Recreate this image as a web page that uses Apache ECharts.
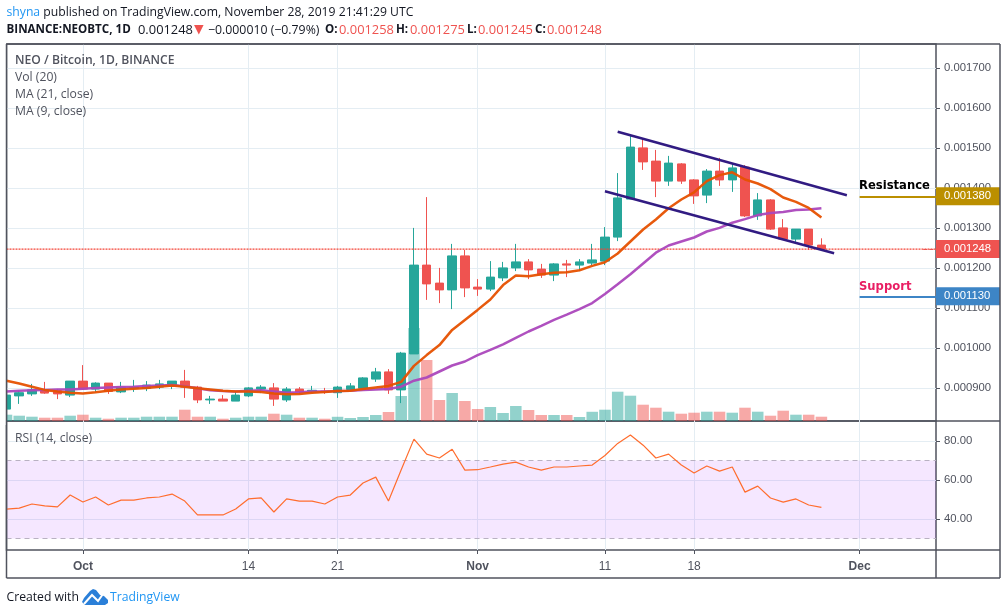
<!DOCTYPE html>
<html>
<head>
<meta charset="utf-8">
<style>html,body{margin:0;padding:0;background:#fff}#chart{width:1006px;height:615px}</style>
<script src="https://cdn.jsdelivr.net/npm/echarts@6/dist/echarts.min.js"></script>
</head>
<body>
<div id="chart"></div>
<script>
// daily bars, Sep 25 to Dec 7 (the axis runs past the last candle on Nov 28)
var days = ['2019-09-25','2019-09-26','2019-09-27','2019-09-28','2019-09-29','2019-09-30',
    '2019-10-01','2019-10-02','2019-10-03','2019-10-04','2019-10-05','2019-10-06','2019-10-07','2019-10-08','2019-10-09','2019-10-10',
    '2019-10-11','2019-10-12','2019-10-13','2019-10-14','2019-10-15','2019-10-16','2019-10-17','2019-10-18','2019-10-19','2019-10-20',
    '2019-10-21','2019-10-22','2019-10-23','2019-10-24','2019-10-25','2019-10-26','2019-10-27','2019-10-28','2019-10-29','2019-10-30','2019-10-31',
    '2019-11-01','2019-11-02','2019-11-03','2019-11-04','2019-11-05','2019-11-06','2019-11-07','2019-11-08','2019-11-09','2019-11-10',
    '2019-11-11','2019-11-12','2019-11-13','2019-11-14','2019-11-15','2019-11-16','2019-11-17','2019-11-18','2019-11-19','2019-11-20',
    '2019-11-21','2019-11-22','2019-11-23','2019-11-24','2019-11-25','2019-11-26','2019-11-27','2019-11-28','2019-11-29','2019-11-30',
    '2019-12-01','2019-12-02','2019-12-03','2019-12-04','2019-12-05','2019-12-06','2019-12-07'];
var dayLabels = {'2019-10-01': 'Oct', '2019-10-14': '14', '2019-10-21': '21', '2019-11-01': 'Nov', '2019-11-11': '11', '2019-11-18': '18', '2019-12-01': 'Dec'};
var monthLabels = ['Oct', 'Nov', 'Dec'];

// prices in millionths of a BTC
var opens = [848,881,886,896,894,883,918,898,913,891,900,900,903,906,918,903,871,873,868,881,898,901,871,898,893,893,889,
    897,900,923,941,896,986,1208,1163,1146,1231,1153,1148,1176,1201,1216,1198,1183,1211,1208,1213,
    1218,1278,1373,1501,1468,1418,1461,1421,1383,1443,1421,1453,1331,1371,1301,1273,1298,1258];
var closes = [883,889,896,888,886,918,898,913,892,903,903,908,911,918,903,871,873,868,883,901,903,873,898,891,895,891,903,
    906,926,941,896,988,1208,1161,1146,1231,1151,1148,1178,1201,1216,1196,1183,1211,1208,1216,1221,
    1278,1376,1503,1466,1418,1463,1418,1381,1443,1421,1451,1331,1371,1298,1273,1298,1258,1248];
var lows = [848,861,881,886,873,878,896,891,886,888,891,893,898,898,876,863,861,868,868,878,888,856,866,886,888,886,876,
    897,897,916,886,863,986,1121,1113,1098,1128,1131,1143,1168,1193,1173,1176,1168,1178,1193,1208,
    1208,1268,1373,1446,1378,1406,1411,1361,1363,1406,1391,1328,1321,1296,1271,1266,1246,1245];
var highs = [887,894,911,916,898,918,958,915,913,916,921,918,921,918,946,906,881,883,893,903,908,913,903,903,906,901,906,
    913,928,951,948,991,1301,1378,1201,1261,1246,1173,1218,1216,1261,1223,1211,1213,1221,1223,1261,
    1303,1438,1533,1523,1496,1481,1463,1423,1448,1476,1461,1458,1388,1373,1323,1298,1298,1275];
var volumes = [6.3,5.3,4.3,3.3,3.3,5.3,6.3,3.3,2.3,3.3,3.3,4.3,4.3,4.3,11.3,4.3,4.3,2.3,3.3,4.3,4.3,7.3,6.3,3.3,3.3,2.3,4.2,
    3,4,6,9,25,93,61,21,28,20,12,14,8,15,11,6,6,6,4,9.2,
    11.3,29.3,25.3,16.3,13.3,9.3,7.3,8.3,9.3,9.3,8.3,13.3,9.3,5.3,10.3,6.3,6.3,4.3];
var maFast = [919,912,904,896,892,889,887,890,894,897,899,901,904,907,904,900,897,894,892,892,891,887,885,886,889,891,893,
    894,898,902,906,916,956,983,1008,1046,1071,1096,1122,1158,1182,1180,1185,1189,1190,1195,1206,
    1215,1237,1267,1297,1322,1350,1372,1390,1418,1433,1440,1422,1412,1398,1377,1366,1351,1327];
var maSlow = [892,894,895,896,897,897,899,901,902,903,904,906,907,908,905,900,895,893,892,894,895,892,889,890,892,892,893,
    894,896,897,898,904,919,927,942,957,967,983,996,1010,1026,1042,1056,1071,1084,1098,1113,
    1136,1160,1185,1212,1239,1257,1267,1277,1292,1301,1314,1323,1333,1338,1341,1346,1347,1350];
var rsi = [45.1,45.6,47.7,46.7,46.2,52.3,48.7,51.3,47.2,49.7,49.7,50.8,51.3,52.8,49.2,42.1,42.1,42.1,45.1,50.3,50.8,43.6,50.3,49.2,49.2,47.7,51.3,
    52.3,58.5,61.5,49.2,65.3,81,73.3,71.3,75.8,65.1,65.3,66.7,68.2,69.2,66.7,65.1,66.7,66.7,67.2,67.7,
    72.6,78.8,83.1,77.9,71.3,73.3,67.7,63.6,67.2,64.6,66.7,53.8,56.9,50.8,48.7,50.3,47.2,46];

var priceTicks = [900,1000,1100,1200,1300,1400,1500,1600,1700];
var rsiTicks = [40,60,80];
var channelTop = [[48,1541.5],[66,1382.5]];
var channelBottom = [[47,1392.5],[65,1237.5]];
var lastPriceLine = [[0,1248],[73,1248]];
var lastPrice = 1248, resistance = 1380, support = 1130;

var UP = '#26a69a', DOWN = '#ef5350', PANE = '#50535e', GRID = '#e4edf3', INK = '#131722';
var chart = echarts.init(document.getElementById('chart'));

var candles = opens.map(function (o, i) { return [o, closes[i], lows[i], highs[i]]; });
var volumeBars = volumes.map(function (v, i) {
    return { value: v, itemStyle: { color: closes[i] >= opens[i] ? 'rgba(38,166,154,0.5)' : 'rgba(239,83,80,0.5)' } };
});
function isLabelled(index, value) { return dayLabels[value] !== undefined; }
function priceText(v) { return (v / 1e6).toFixed(6); }
function tag(value, color) {
    return { show: true, position: 'end', distance: 0, formatter: priceText(value),
        color: '#fff', backgroundColor: color, fontFamily: 'Liberation Sans', fontSize: 11.3,
        width: 56, height: 18, lineHeight: 18, padding: [0, 0, 0, 8], align: 'left', verticalAlign: 'middle' };
}
function level(value, color) {
    return [{ xAxis: 67, yAxis: value, lineStyle: { color: color, width: 2, type: 'solid' }, label: tag(value, color) },
            { xAxis: 73, yAxis: value }];
}
function text(x, y, str, font, color) {
    return { type: 'text', z: 50, silent: true, style: { x: x, y: y, text: str, font: font, fill: color, textVerticalAlign: 'middle' } };
}
function frameLine(x1, y1, x2, y2) {
    return { type: 'line', z: 40, silent: true, shape: { x1: x1, y1: y1, x2: x2, y2: y2 }, style: { stroke: PANE, lineWidth: 1.5 } };
}
var REG = '12.2px "Open Sans"', NUM = '12.9px "Open Sans"', BOLD = 'bold 11.6px "Open Sans"';

var option = {
    animation: false,
    backgroundColor: '#fff',
    grid: [
        { left: 6.5, top: 44, width: 929.5, height: 377, show: true, borderColor: PANE, borderWidth: 1.5 },
        { left: 6.5, top: 421, width: 929.5, height: 129, show: true, borderColor: PANE, borderWidth: 1.5 }
    ],
    xAxis: [
        { type: 'category', gridIndex: 0, data: days, boundaryGap: false,
          axisLine: { show: false }, axisTick: { show: false }, axisLabel: { show: false },
          splitLine: { show: true, interval: isLabelled, lineStyle: { color: GRID } } },
        { type: 'category', gridIndex: 1, data: days, boundaryGap: false,
          axisLine: { show: false },
          axisTick: { show: true, interval: isLabelled, length: 4, lineStyle: { color: PANE } },
          splitLine: { show: true, interval: isLabelled, lineStyle: { color: GRID } },
          axisLabel: { show: true, interval: isLabelled, margin: 11, color: PANE, fontFamily: 'Liberation Sans', fontSize: 12, hideOverlap: false,
              formatter: function (v) {
                  var s = dayLabels[v];
                  return monthLabels.indexOf(s) >= 0 ? '{m|' + s + '}' : s;
              },
              rich: { m: { fontFamily: 'Liberation Sans', fontWeight: 'bold', fontSize: 12, color: PANE } } } }
    ],
    yAxis: [
        { type: 'value', gridIndex: 0, position: 'right', min: 818.25, max: 1760.75, scale: true,
          axisLine: { show: false },
          axisTick: { show: true, customValues: priceTicks, length: 4, lineStyle: { color: PANE } },
          axisLabel: { show: true, customValues: priceTicks, margin: 8, color: PANE, fontFamily: 'Liberation Sans', fontSize: 11.3, formatter: priceText },
          splitLine: { show: true, lineStyle: { color: GRID } } },
        { type: 'value', gridIndex: 0, min: 0, max: 377, show: false },
        { type: 'value', gridIndex: 1, position: 'right', min: 24.1, max: 90.3, scale: true,
          axisLine: { show: false },
          axisTick: { show: true, customValues: rsiTicks, length: 4, lineStyle: { color: PANE } },
          axisLabel: { show: true, customValues: rsiTicks, margin: 8, color: PANE, fontFamily: 'Liberation Sans', fontSize: 11.3,
              formatter: function (v) { return v.toFixed(2); } },
          splitLine: { show: true, lineStyle: { color: GRID } } }
    ],
    series: [
        { type: 'bar', name: 'Vol', xAxisIndex: 0, yAxisIndex: 1, data: volumeBars, barWidth: 11.5, z: 1, silent: true },
        { type: 'candlestick', name: 'NEO / Bitcoin', xAxisIndex: 0, yAxisIndex: 0, data: candles, barWidth: 9, z: 3, silent: true,
          itemStyle: { color: UP, color0: DOWN, borderColor: UP, borderColor0: DOWN, borderWidth: 1 },
          markLine: { silent: true, symbol: 'none', animation: false, z: 20,
              data: [
                  [{ xAxis: 72, yAxis: lastPrice, lineStyle: { color: DOWN, width: 1 }, label: tag(lastPrice, DOWN) },
                   { xAxis: 73, yAxis: lastPrice }],
                  level(resistance, '#bb8f00'),
                  level(support, '#3d85c6')
              ] } },
        { type: 'line', xAxisIndex: 0, yAxisIndex: 0, data: lastPriceLine, showSymbol: false, z: 4, silent: true,
          lineStyle: { color: '#f44336', width: 1.2, type: [2, 1] } },
        { type: 'line', name: 'MA 21', xAxisIndex: 0, yAxisIndex: 0, data: maSlow, showSymbol: false, z: 4, silent: true,
          lineStyle: { color: '#ab47bc', width: 2.5, opacity: 0.95 } },
        { type: 'line', name: 'MA 9', xAxisIndex: 0, yAxisIndex: 0, data: maFast, showSymbol: false, z: 5, silent: true,
          lineStyle: { color: '#e65100', width: 2.5, opacity: 0.95 } },
        { type: 'line', xAxisIndex: 0, yAxisIndex: 0, data: channelTop, showSymbol: false, z: 6, silent: true,
          lineStyle: { color: '#311b82', width: 2.5 } },
        { type: 'line', xAxisIndex: 0, yAxisIndex: 0, data: channelBottom, showSymbol: false, z: 6, silent: true,
          lineStyle: { color: '#311b82', width: 2.5 } },
        { type: 'line', name: 'RSI', xAxisIndex: 1, yAxisIndex: 2, data: rsi, showSymbol: false, z: 5, silent: true,
          lineStyle: { color: '#ff6d2e', width: 1.2 },
          markArea: { silent: true, itemStyle: { color: 'rgba(153,21,255,0.1)' }, data: [[{ yAxis: 70 }, { yAxis: 30 }]] },
          markLine: { silent: true, symbol: 'none', animation: false, label: { show: false },
              lineStyle: { color: '#b9b1c2', width: 1, type: [5, 4] }, data: [{ yAxis: 70 }, { yAxis: 30 }] } }
    ],
    graphic: [
        // candle and volume at the left edge stick out of the pane, hide that part
        { type: 'rect', z: 39, silent: true, shape: { x: 0, y: 40, width: 6, height: 385 }, style: { fill: '#fff' } },
        frameLine(6.5, 44, 1000, 44), frameLine(936, 421, 1000, 421), frameLine(936, 550, 1000, 550),
        frameLine(6.5, 578, 1000, 578), frameLine(6.5, 44, 6.5, 578), frameLine(1000, 44, 1000, 578), frameLine(936, 550, 936, 578),
        { type: 'text', z: 50, silent: true, style: { x: 6.5, y: 12.5, textVerticalAlign: 'middle', font: REG, fill: INK,
            text: '{a|shyna}{t| published on TradingView.com, November 28, 2019 21:41:29 UTC}',
            rich: { a: { fill: '#2196f3', font: REG }, t: { fill: INK, font: REG } } } },
        text(6.5, 30, 'BINANCE:NEOBTC, 1D', BOLD, INK),
        text(138, 30, '0.001248', NUM, INK),
        text(194, 30, '▼', '12.5px "DejaVu Sans"', DOWN),
        text(208, 30, '−0.000010 (−0.79%)', '12.3px "Open Sans"', INK),
        text(325, 30, 'O:', BOLD, INK), text(339, 30, '0.001258', NUM, DOWN),
        text(396, 30, 'H:', BOLD, INK), text(410, 30, '0.001275', NUM, DOWN),
        text(467, 30, 'L:', BOLD, INK), text(478, 30, '0.001245', NUM, DOWN),
        text(535, 30, 'C:', BOLD, INK), text(547, 30, '0.001248', NUM, DOWN),
        text(15, 61, 'NEO / Bitcoin, 1D, BINANCE', '600 12.15px "Open Sans"', PANE),
        text(15, 78, 'Vol (20)', REG, PANE),
        text(15, 95, 'MA (21, close)', REG, PANE),
        text(15, 112, 'MA (9, close)', REG, PANE),
        text(15, 439, 'RSI (14, close)', REG, PANE),
        text(859, 185.5, 'Resistance', 'bold 11.6px "DejaVu Sans"', '#000'),
        text(859, 286.5, 'Support', 'bold 11.6px "DejaVu Sans"', '#e91e63'),
        text(6.5, 597.5, 'Created with', REG, INK),
        text(110, 597.5, 'TradingView', REG, '#2196f3'),
        { type: 'polygon', z: 50, silent: true, shape: { points: [[82, 602], [84, 598], [90, 591], [93, 589], [96, 590], [100, 595], [104, 596], [108, 600], [108, 603], [105, 605], [85, 605]] }, style: { fill: '#2a7fd8' } },
        { type: 'polyline', z: 51, silent: true, shape: { points: [[84, 604], [92, 595], [98, 601], [103, 594]] }, style: { fill: 'none', stroke: '#fff', lineWidth: 2 } }
    ]
};
chart.setOption(option);
</script>
</body>
</html>
